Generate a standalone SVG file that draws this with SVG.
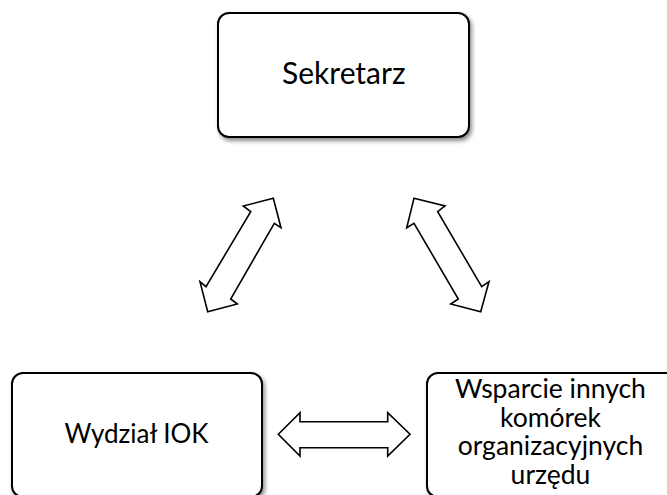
<svg xmlns="http://www.w3.org/2000/svg" width="667" height="495" viewBox="0 0 667 495">
<defs>
<filter id="sh" x="-10%" y="-10%" width="130%" height="130%">
<feDropShadow dx="2" dy="3" stdDeviation="2.2" flood-color="#000" flood-opacity="0.45"/>
</filter>
<style>
.box{fill:#fff;stroke:#000;stroke-width:2;filter:url(#sh)}
.arr{fill:#fff;stroke:#000;stroke-width:1.6;stroke-linejoin:miter}
.t{font-family:Lato,"Open Sans","Liberation Sans",sans-serif;fill:#000;text-anchor:middle}
</style>
</defs>
<rect width="667" height="495" fill="#fff"/>
<g id="connectors">
<polygon class="arr" points="273.3,198.3 281,227.7 274.3,223.3 230.7,299 237.3,304 207.7,311.7 200,281.7 206,286.7 250.7,211.7 243.3,206"/>
<polygon class="arr" points="414,198.3 445,206 437.7,211.7 481.7,286.7 489,281.7 480.7,311.7 450.7,304 458.3,299 414,223.3 406.7,227.7"/>
<polygon class="arr" points="278.3,434.3 300,412.7 300,421.7 387.7,421.7 387.7,412.7 410,434.3 387.7,456 387.7,447.7 300,447.7 300,456"/>
</g>
<g id="sekretarz">
<rect class="box" x="218" y="13" width="251" height="124" rx="11"/>
<text class="t" x="343.8" y="84.3" font-size="30">Sekretarz</text>
</g>
<g id="wydzial">
<rect class="box" x="12" y="373" width="250" height="124" rx="11"/>
<text class="t" x="136.5" y="442.7" font-size="26">Wydział IOK</text>
</g>
<g id="wsparcie">
<rect class="box" x="427" y="373" width="251" height="124" rx="11"/>
<text class="t" x="550.5" font-size="26.5"><tspan x="550.5" y="398">Wsparcie innych</tspan><tspan x="550.5" y="426.7">komórek</tspan><tspan x="550.5" y="455.3">organizacyjnych</tspan><tspan x="550.5" y="484">urzędu</tspan></text>
</g>
</svg>
